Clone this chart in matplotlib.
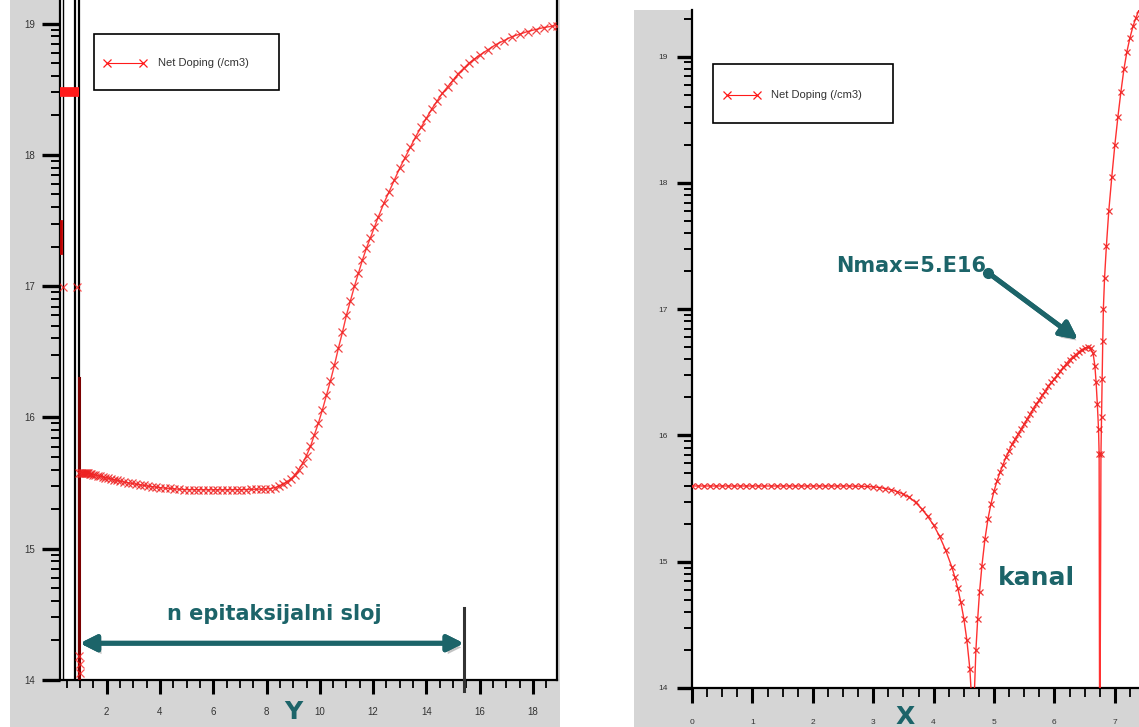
import matplotlib
matplotlib.use('Agg')
import matplotlib.pyplot as plt
from matplotlib.patches import Rectangle
from matplotlib.lines import Line2D
from matplotlib import patheffects as pe
import numpy as np

# ---- data (log10 of net doping, /cm3) ----
# left plot: cut along Y (um)
left_y_um = [0.98, 1.02, 1.06, 1.10, 1.14, 1.18, 1.22, 1.26, 1.30, 1.36, 1.42, 1.50, 1.58, 1.66,
             1.75, 1.85, 1.95, 2.05, 2.16, 2.28, 2.40, 2.52, 2.65, 2.80, 2.95, 3.10, 3.25, 3.40,
             3.55, 3.70, 3.85, 4.00, 4.18, 4.36, 4.54, 4.72, 4.90, 5.08, 5.26, 5.44, 5.62, 5.80,
             5.98, 6.16, 6.34, 6.52, 6.70, 6.88, 7.06, 7.24, 7.42, 7.60, 7.78, 7.96, 8.14, 8.30,
             8.45, 8.60, 8.75, 8.90, 9.05, 9.20, 9.35, 9.50, 9.65, 9.80, 9.95, 10.10, 10.25, 10.40,
             10.55, 10.70, 10.85, 11.00, 11.15, 11.30, 11.45, 11.60, 11.75, 11.90, 12.05, 12.20,
             12.40, 12.60, 12.80, 13.00, 13.20, 13.40, 13.60, 13.80, 14.00, 14.20, 14.40, 14.60,
             14.80, 15.00, 15.20, 15.40, 15.60, 15.80, 16.00, 16.30, 16.60, 16.90, 17.20, 17.50,
             17.80, 18.10, 18.40, 18.70, 18.90]
left_doping = [15.58, 15.58, 15.58, 15.58, 15.58, 15.578, 15.577, 15.576, 15.575, 15.572, 15.569,
               15.565, 15.561, 15.557, 15.552, 15.547, 15.542, 15.537, 15.532, 15.526, 15.52,
               15.514, 15.508, 15.502, 15.497, 15.492, 15.487, 15.482, 15.477, 15.473, 15.469,
               15.465, 15.462, 15.459, 15.456, 15.453, 15.451, 15.45, 15.45, 15.45, 15.449, 15.449,
               15.449, 15.449, 15.449, 15.449, 15.45, 15.45, 15.45, 15.451, 15.452, 15.453, 15.454,
               15.455, 15.458, 15.465, 15.475, 15.49, 15.508, 15.53, 15.56, 15.60, 15.65, 15.71,
               15.78, 15.87, 15.96, 16.06, 16.17, 16.28, 16.40, 16.53, 16.65, 16.78, 16.89, 17.00,
               17.10, 17.20, 17.29, 17.37, 17.45, 17.53, 17.63, 17.72, 17.81, 17.90, 17.98, 18.06,
               18.14, 18.21, 18.28, 18.35, 18.41, 18.47, 18.52, 18.57, 18.62, 18.66, 18.70, 18.73,
               18.76, 18.80, 18.84, 18.87, 18.90, 18.92, 18.94, 18.955, 18.97, 18.98, 18.985]

# bits near the surface on the left plot
surf_block_y = [0.25, 0.96]
surf_block_n = [18.48, 18.48]
surf_marks_y = [0.36, 0.88, 0.97, 0.99, 1.0]
surf_marks_n = [16.99, 16.99, 14.18, 14.12, 14.05]
edge_y = [0.96, 0.96]
edge_n = [16.3, 13.9]
left_edge_y = [0.27, 0.27]
left_edge_n = [17.25, 17.5]
oxide_lines = [0.36, 0.83, 0.96]

# right plot: cut along X (um)
right_x_um = [0.0, 0.1, 0.2, 0.3, 0.4, 0.5, 0.6, 0.7, 0.8, 0.9, 1.0, 1.1, 1.2, 1.3, 1.4, 1.5, 1.6,
              1.7, 1.8, 1.9, 2.0, 2.1, 2.2, 2.3, 2.4, 2.5, 2.6, 2.7, 2.8, 2.9, 3.0, 3.1, 3.2, 3.3,
              3.4, 3.5, 3.6, 3.7, 3.8, 3.9, 4.0, 4.1, 4.2, 4.3, 4.35, 4.4, 4.45, 4.5, 4.55, 4.6,
              4.63, 4.65, 4.67, 4.70, 4.73, 4.76, 4.80, 4.85, 4.90, 4.95, 5.00, 5.05, 5.10, 5.15,
              5.20, 5.25, 5.30, 5.35, 5.40, 5.45, 5.50, 5.55, 5.60, 5.65, 5.70, 5.75, 5.80, 5.85,
              5.90, 5.95, 6.00, 6.05, 6.10, 6.15, 6.20, 6.25, 6.30, 6.35, 6.40, 6.45, 6.50, 6.55,
              6.60, 6.64, 6.67, 6.69, 6.71, 6.73, 6.74, 6.75, 6.77, 6.78, 6.79, 6.80, 6.81, 6.83,
              6.86, 6.90, 6.95, 7.00, 7.05, 7.10, 7.15, 7.20, 7.25, 7.30, 7.35, 7.40]
right_doping = [15.6, 15.6, 15.6, 15.6, 15.6, 15.6, 15.6, 15.6, 15.6, 15.6, 15.6, 15.6, 15.6, 15.6,
                15.6, 15.6, 15.6, 15.6, 15.6, 15.6, 15.6, 15.6, 15.6, 15.6, 15.6, 15.6, 15.6,
                15.599, 15.598, 15.596, 15.593, 15.588, 15.58, 15.57, 15.555, 15.535, 15.51,
                15.47, 15.42, 15.36, 15.29, 15.20, 15.09, 14.96, 14.88, 14.79, 14.68, 14.55,
                14.38, 14.15, 13.9, 13.0, 13.9, 14.3, 14.55, 14.76, 14.97, 15.18, 15.34, 15.46,
                15.56, 15.64, 15.71, 15.77, 15.83, 15.88, 15.93, 15.97, 16.01, 16.05, 16.09,
                16.13, 16.17, 16.21, 16.25, 16.28, 16.32, 16.35, 16.39, 16.42, 16.45, 16.48,
                16.51, 16.54, 16.57, 16.60, 16.62, 16.64, 16.66, 16.68, 16.69, 16.70, 16.69,
                16.65, 16.55, 16.42, 16.25, 16.05, 15.85, 13.0, 15.85, 16.15, 16.45, 16.75, 17.0,
                17.25, 17.5, 17.78, 18.05, 18.3, 18.52, 18.72, 18.9, 19.04, 19.15, 19.24, 19.31,
                19.37]

decades = [14, 15, 16, 17, 18, 19]
legend_text = 'Net Doping (/cm3)'

# annotation anchors (data coords)
epi_arrow = (1.0, 15.4, 14.28)
epi_mark = (15.42, 14.55, 13.92)
nmax_from = (4.9, 17.29)
nmax_to = (6.39, 16.76)

# ---- figure ----
W, H = 1139, 727
GREY = '#d5d5d5'
TEAL = '#1c6469'
RED = '#ff1a1a'


def fig_box(l, t, r, b):
    return [l / W, 1 - b / H, (r - l) / W, (b - t) / H]


fig = plt.figure(figsize=(W / 100, H / 100), dpi=100)
fig.patches.append(Rectangle((10 / W, 0), 550 / W, 1, transform=fig.transFigure,
                             facecolor=GREY, edgecolor='none', zorder=-5))
fig.patches.append(Rectangle((634 / W, 0), (W - 634) / W, (H - 10) / H, transform=fig.transFigure,
                             facecolor=GREY, edgecolor='none', zorder=-5))

ax1 = fig.add_axes(fig_box(60, 0, 557, 680))
ax2 = fig.add_axes(fig_box(692, 10, 1139, 688))

minors = [d + np.log10(k) for d in range(13, 20) for k in range(2, 10)]


def style(ax, xmaj, xmin, fs, ylen, xlen, ypad, xpad):
    ax.set_facecolor('white')
    ax.spines['top'].set_visible(False)
    for s in ['left', 'bottom', 'right']:
        ax.spines[s].set_linewidth(1.6)
    ax.set_yticks(decades, [str(d) for d in decades])
    ax.set_yticks(minors, minor=True)
    ax.xaxis.set_major_locator(plt.MultipleLocator(xmaj))
    ax.xaxis.set_minor_locator(plt.MultipleLocator(xmin))
    ax.tick_params(axis='y', which='major', length=ylen, width=2.4, pad=ypad)
    ax.tick_params(axis='y', which='minor', length=ylen * 0.5, width=1.4)
    ax.tick_params(axis='x', which='major', length=xlen, width=2.2, pad=xpad)
    ax.tick_params(axis='x', which='minor', length=xlen * 0.6, width=1.3)
    ax.tick_params(which='both', labelsize=fs, labelcolor='#333333')
    for lab in ax.get_xticklabels() + ax.get_yticklabels():
        lab.set_family('Liberation Sans')


# left plot
style(ax1, 2, 0.5, 7, 13, 10, 5, 9.5)
ax1.set_xlim(0.25, 18.9)
ax1.set_ylim(14, 19.18)
for xv in oxide_lines:
    ax1.axvline(xv, color='black', lw=1.6 if xv > 0.5 else 1.0, zorder=2)
ax1.plot(surf_block_y, surf_block_n, color=RED, lw=7, solid_capstyle='butt', zorder=3)
ax1.plot(edge_y, edge_n, color='#7a0000', lw=2.2, zorder=3)
ax1.plot(left_edge_y, left_edge_n, color='#c00000', lw=2, zorder=3)
ax1.plot(surf_marks_y, surf_marks_n, 'x', color=RED, ms=6, mew=0.9, alpha=0.75, zorder=4)
ax1.plot(left_y_um, left_doping, color=RED, lw=1.0, marker='x', ms=6, mew=0.9,
         markeredgecolor='#ee2222', alpha=0.85, zorder=4)

shadow = [pe.withSimplePatchShadow(offset=(2, -3), shadow_rgbFace='#555555', alpha=0.35), pe.Normal()]
a1 = ax1.annotate('', xy=(epi_arrow[0], epi_arrow[2]), xytext=(epi_arrow[1], epi_arrow[2]),
                  arrowprops=dict(arrowstyle='<|-|>', color=TEAL, lw=3.5, mutation_scale=24,
                                  shrinkA=0, shrinkB=0))
a1.arrow_patch.set_path_effects(shadow)
ax1.plot([epi_mark[0], epi_mark[0]], [epi_mark[1], epi_mark[2]], color='#333333', lw=2.2,
         clip_on=False, zorder=5)
ax1.text(8.3, 14.5, 'n epitaksijalni sloj', color=TEAL, fontsize=15, fontweight='bold',
         ha='center', va='center', family='DejaVu Sans')
ax1.text(9.0, 13.76, 'Y', color=TEAL, fontsize=18, fontweight='bold', ha='center', va='center',
         family='DejaVu Sans')

# right plot
style(ax2, 1, 0.25, 6, 11, 11, 6.5, 11)
ax2.spines['right'].set_visible(False)
ax2.set_xlim(0, 7.4)
ax2.set_ylim(14, 19.37)
ax2.plot(right_x_um, right_doping, color=RED, lw=1.0, marker='x', ms=5, mew=0.9,
         markeredgecolor='#ee2222', alpha=0.9, zorder=4)
a2 = ax2.annotate('', xy=nmax_to, xytext=nmax_from,
                  arrowprops=dict(arrowstyle='-|>', color=TEAL, lw=3.5, mutation_scale=26,
                                  shrinkA=0, shrinkB=0))
a2.arrow_patch.set_path_effects(shadow)
ax2.plot([nmax_from[0]], [nmax_from[1]], 'o', color=TEAL, ms=7, zorder=5)
ax2.text(3.62, 17.34, 'Nmax=5.E16', color=TEAL, fontsize=15, fontweight='bold',
         ha='center', va='center', family='DejaVu Sans')
ax2.text(5.71, 14.87, 'kanal', color=TEAL, fontsize=18, fontweight='bold',
         ha='center', va='center', family='DejaVu Sans')
ax2.text(3.53, 13.77, 'X', color=TEAL, fontsize=18, fontweight='bold', ha='center', va='center',
         family='DejaVu Sans')

# legend boxes (drawn by hand, pixel layout of the screenshot)
for l, t, r, b, hx0, hx1, hy, tx in [(94, 34, 279, 90, 107, 143, 63, 158),
                                      (713, 64, 893, 123, 727, 757, 95, 771)]:
    fig.add_artist(Rectangle((l / W, 1 - b / H), (r - l) / W, (b - t) / H, transform=fig.transFigure,
                             facecolor='white', edgecolor='black', lw=1.2, zorder=5))
    fig.add_artist(Line2D([hx0 / W, hx1 / W], [1 - hy / H, 1 - hy / H], transform=fig.transFigure,
                          color=RED, lw=0.8, marker='x', ms=6, mew=0.9, zorder=6))
    fig.text(tx / W, 1 - hy / H, legend_text, fontsize=8, va='center', color='#333333',
             family='Liberation Sans', zorder=6)

fig.savefig('out.png', dpi=100)
